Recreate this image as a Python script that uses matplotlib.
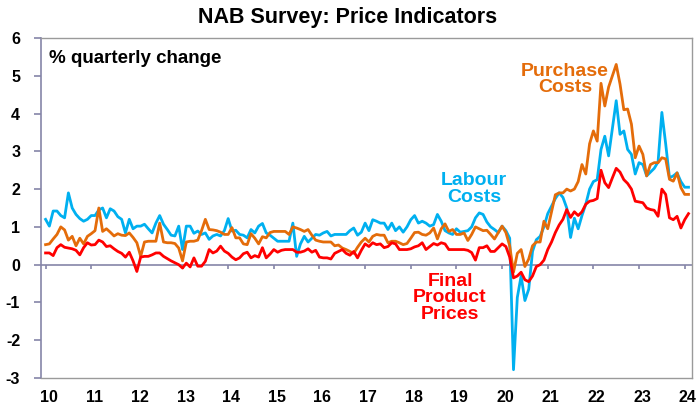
import numpy as np
import matplotlib
matplotlib.use("Agg")
import matplotlib.pyplot as plt
import matplotlib.transforms as mtransforms

plt.rcParams['font.family'] = ['Liberation Sans', 'DejaVu Sans']
plt.rcParams['font.weight'] = 'bold'

# ---- data: monthly, starting Jan 2010 ----
start_year = 2010
labour_costs = [
    1.2, 1.02, 1.42, 1.42, 1.3, 1.24, 1.9, 1.5, 1.33, 1.22, 1.15, 1.2,
    1.3, 1.3, 1.45, 1.5, 1.24, 1.48, 1.42, 1.27, 1.2, 0.84, 1.2, 0.95,
    1.02, 1.02, 1.07, 0.95, 0.84, 1.1, 1.3, 1.07, 0.93, 0.78, 0.76, 1.02,
    0.4, 1.02, 1.02, 0.83, 0.89, 0.8, 0.84, 0.67, 0.76, 0.8, 0.76, 0.9,
    1.22, 0.89, 0.91, 0.8, 0.78, 0.71, 0.93, 0.84, 1.02, 1.09, 0.84, 0.78,
    0.7, 0.62, 0.62, 0.62, 0.62, 1.1, 0.22, 0.55, 0.75, 0.6, 0.7, 0.8,
    0.78, 0.84, 0.88, 0.76, 0.8, 0.8, 0.8, 0.8, 0.9, 0.97, 0.78, 0.86,
    1.1, 0.9, 1.19, 1.15, 1.1, 1.1, 0.93, 1.1, 0.9, 1.0, 0.86, 1.0,
    1.19, 1.3, 1.1, 1.15, 1.1, 1.02, 1.06, 1.33, 1.15, 0.9, 0.84, 0.8,
    0.95, 0.86, 0.88, 0.9, 1.0, 1.24, 1.37, 1.33, 1.13, 1.0, 0.93, 0.85,
    1.02, 0.9, 0.7, -2.78, -0.87, -0.3, -0.95, -0.65, 0.35, 0.66, 0.75, 1.0,
    1.35, 1.55, 1.75, 1.9, 1.78, 1.5, 0.72, 1.23, 0.95, 1.3, 1.6, 2.0,
    2.2, 2.25, 3.05, 3.4, 2.88, 3.6, 4.34, 3.45, 3.54, 3.05, 2.92, 2.4,
    2.7, 2.65, 2.35, 2.45, 2.55, 2.72, 4.03, 3.2, 2.3, 2.35, 2.43, 2.2,
    2.05, 2.05,
]
purchase_costs = [
    0.53, 0.55, 0.68, 0.8, 1.0, 0.92, 0.65, 0.75, 0.5, 0.7, 0.55, 0.75,
    0.82, 0.9, 1.5, 0.88, 0.95, 0.86, 0.76, 0.82, 0.78, 0.77, 0.84, 0.72,
    0.58, 0.22, 0.6, 0.62, 0.62, 0.62, 1.1, 0.6, 0.58, 0.58, 0.56, 0.44,
    0.1, 0.6, 0.62, 0.62, 0.65, 0.9, 1.2, 0.93, 0.92, 0.9, 0.86, 0.8,
    0.8, 0.98, 0.71, 0.71, 0.55, 0.53, 0.82, 0.7, 0.55, 0.74, 0.71, 0.85,
    0.88, 0.88, 0.88, 0.88, 0.8, 1.0, 0.97, 0.93, 0.88, 0.93, 0.78, 0.65,
    0.62, 0.6, 0.6, 0.6, 0.5, 0.52, 0.44, 0.4, 0.35, 0.3, 0.46, 0.6,
    0.7, 0.6, 0.75, 0.8, 0.78, 0.78, 0.58, 0.62, 0.62, 0.58, 0.53, 0.56,
    0.7, 0.85, 0.86, 0.8, 0.78, 0.84, 0.97, 0.68, 0.95, 1.08, 0.88, 0.93,
    0.8, 0.8, 0.84, 0.64, 0.8, 1.0, 0.95, 0.9, 0.91, 0.8, 0.68, 0.85,
    1.02, 0.85, 0.5, -0.2, 0.3, 0.4, -0.05, 0.15, 0.5, 0.6, 0.6, 1.15,
    0.95, 1.4, 1.85, 1.9, 1.9, 2.0, 1.95, 2.0, 2.2, 2.65, 2.4, 3.2,
    3.54, 3.27, 4.8, 4.2, 4.7, 5.0, 5.3, 4.78, 4.1, 4.12, 3.72, 2.83,
    3.14, 2.92, 2.35, 2.65, 2.7, 2.7, 2.83, 2.8, 2.26, 2.21, 2.43, 2.04,
    1.86, 1.86,
]
final_prices = [
    0.31, 0.31, 0.24, 0.45, 0.53, 0.46, 0.44, 0.42, 0.38, 0.26, 0.45, 0.58,
    0.52, 0.53, 0.65, 0.6, 0.48, 0.5, 0.42, 0.35, 0.3, 0.2, 0.33, 0.1,
    -0.18, 0.2, 0.22, 0.22, 0.26, 0.31, 0.31, 0.22, 0.16, 0.1, 0.05, 0.0,
    -0.09, 0.04, -0.06, 0.18, -0.04, -0.04, 0.09, 0.4, 0.31, 0.36, 0.49, 0.36,
    0.3, 0.2, 0.13, 0.18, 0.29, 0.33, 0.18, 0.24, 0.2, 0.45, 0.18, 0.28,
    0.4, 0.33, 0.38, 0.4, 0.4, 0.4, 0.33, 0.33, 0.36, 0.42, 0.33, 0.38,
    0.2, 0.18, 0.18, 0.15, 0.3, 0.35, 0.4, 0.3, 0.25, 0.35, 0.18, 0.38,
    0.55, 0.48, 0.58, 0.53, 0.55, 0.45, 0.48, 0.58, 0.55, 0.4, 0.4, 0.4,
    0.42, 0.47, 0.5, 0.58, 0.4, 0.48, 0.56, 0.52, 0.58, 0.55, 0.4, 0.4,
    0.4, 0.4, 0.4, 0.38, 0.32, 0.12, 0.45, 0.45, 0.5, 0.35, 0.35, 0.45,
    0.55, 0.48, 0.2, -0.35, -0.3, -0.2, -0.4, -0.45, -0.3, -0.05, 0.0, 0.12,
    0.4, 0.6, 0.85, 1.05, 1.2, 1.46, 1.25, 1.4, 1.3, 1.4, 1.6, 1.68,
    1.7, 1.75, 2.5, 2.17, 2.04, 2.3, 2.55, 2.45, 2.25, 2.15, 2.0, 1.68,
    1.66, 1.64, 1.5, 1.46, 1.44, 1.28, 2.0, 1.86, 1.24, 1.19, 1.28, 0.97,
    1.19, 1.35,
]
year_ticks = list(range(2010, 2025))
year_labels = [f"{y % 100:02d}" for y in year_ticks]
y_ticks = list(range(-3, 7))

# ---- styling ----
C_LAB = '#00B0F0'
C_PUR = '#E46C0A'
C_FIN = '#FF0000'
AXC = '#8585A8'
FRAME = '#9A9A9A'

n = len(labour_costs)
x = start_year + np.arange(n) / 12.0

fig = plt.figure(figsize=(6.97, 4.05), dpi=100)
W, H = 697, 405
ax = fig.add_axes([41 / W, 1 - 378 / H, (692 - 41) / W, (378 - 38) / H])

ax.plot(x, labour_costs, color=C_LAB, lw=2.0, zorder=3, solid_joinstyle='round')
ax.plot(x, purchase_costs, color=C_PUR, lw=2.0, zorder=4, solid_joinstyle='round')
ax.plot(x, final_prices, color=C_FIN, lw=2.0, zorder=5, solid_joinstyle='round')

ax.set_xlim(2009.9, 2024.16)
ax.set_ylim(-3, 6)

# zero line with year tick marks
ax.axhline(0, color=AXC, lw=1.2, zorder=2)
ax.vlines(year_ticks, -0.12, 0, color=AXC, lw=1.2, zorder=2)

ax.set_xticks(year_ticks)
ax.set_xticklabels(year_labels, fontsize=11.5, fontweight='bold')
ax.tick_params(axis='x', length=0, pad=9)
shift = mtransforms.ScaledTranslation(3 / 100, 0, fig.dpi_scale_trans)
for lab in ax.get_xticklabels():
    lab.set_transform(lab.get_transform() + shift)
ax.set_yticks(y_ticks)
ax.set_yticklabels([str(v) for v in y_ticks], fontsize=11.5, fontweight='bold')
ax.tick_params(axis='y', direction='out', length=5, width=1.2, color=AXC, pad=10)

for s in ['top', 'right', 'bottom']:
    ax.spines[s].set_color(FRAME)
    ax.spines[s].set_linewidth(1.0)
ax.spines['left'].set_color(AXC)
ax.spines['left'].set_linewidth(1.2)

fig.text(348 / W, 1 - 18 / H, 'NAB Survey: Price Indicators', ha='center', va='center',
         fontsize=15.5, fontweight='bold')
ax.text(0.012, 0.965, '% quarterly change', transform=ax.transAxes, ha='left', va='top',
        fontsize=13.5, fontweight='bold')

ax.text(2021.38, 4.9, 'Purchase\nCosts', color=C_PUR, ha='center', va='center',
        fontsize=14, fontweight='bold', linespacing=0.95)
ax.text(2019.39, 2.0, 'Labour\nCosts', color=C_LAB, ha='center', va='center',
        fontsize=14, fontweight='bold', linespacing=0.95)
ax.text(2018.86, -0.88, 'Final\nProduct\nPrices', color=C_FIN, ha='center', va='center',
        fontsize=14, fontweight='bold', linespacing=0.95)

fig.savefig('out.png', dpi=100)
